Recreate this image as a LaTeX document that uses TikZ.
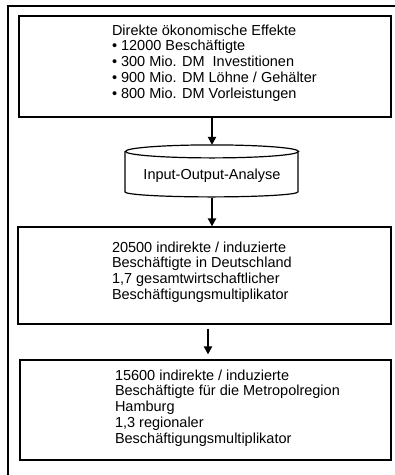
\documentclass[tikz,border=0pt]{standalone}
\usepackage{fontspec}
\setmainfont{Liberation Sans}
\usetikzlibrary{arrows.meta}

\begin{document}
\begin{tikzpicture}[x=1pt,y=-1pt,line width=1.2pt,font=\fontsize{14.5}{15.8}\selectfont]

        \useasboundingbox (0,0) rectangle (395,475);
        \draw (395,6) -- (8,6) -- (8,475);

        \begin{scope}[every node/.style={draw, rectangle, inner sep=0pt}]
          \node[minimum width=372pt, minimum height=101pt] (1) at (205,66.5)   {};
          \node[draw=none, minimum width=173pt, minimum height=52pt,
                text height=16pt, text depth=0pt] (2) at (212,171.5) {Input-Output-Analyse};
          \node[minimum width=373pt, minimum height=97pt]  (3) at (204.5,275.5) {};
          \node[minimum width=371pt, minimum height=100pt] (4) at (205.5,410)   {};
        \end{scope}

        % cylinder round (2)
        \draw (2.north) ++(0,6.5) ellipse [x radius=86.5pt, y radius=6.5pt];
        \draw (2.north west) ++(0,6.5) -- ++(0,40.5)
              arc [start angle=180, end angle=360, x radius=86.5pt, y radius=5pt] -- ++(0,-40.5);

        \begin{scope}[every node/.style={anchor=west, align=left, inner sep=0pt}]
          \node (t1) at ([xshift=93pt,yshift=3.5pt]1.west)
            {Direkte ökonomische Effekte\\
             • 12000 Beschäftigte\\
             • 300 Mio. DM~~Investitionen\\
             • 900 Mio. DM Löhne / Gehälter\\
             • 800 Mio. DM Vorleistungen};
          \node (t3) at ([xshift=94pt,yshift=3.5pt]3.west)
            {20500 indirekte / induzierte\\
             Beschäftigte in Deutschland\\
             1,7 gesamtwirtschaftlicher\\
             Beschäftigungsmultiplikator};
          \node (t4) at ([xshift=95pt,yshift=2pt]4.west)
            {15600 indirekte / induzierte\\
             Beschäftigte für die Metropolregion\\
             Hamburg\\
             1,3 regionaler\\
             Beschäftigungsmultiplikator};
        \end{scope}

        \coordinate (a3) at (208,0);
        \begin{scope}[every edge/.style={draw, line width=2.2pt, -{Triangle[length=8pt,width=8pt]}}]
          \path (1.south -| 2.north) edge (2.north);
          \path (2.south) edge (3.north -| 2.south);
          \path (3.south -| a3) edge[shorten <=4pt, shorten >=5pt] (4.north -| a3);
        \end{scope}

      \end{tikzpicture}
\end{document}
